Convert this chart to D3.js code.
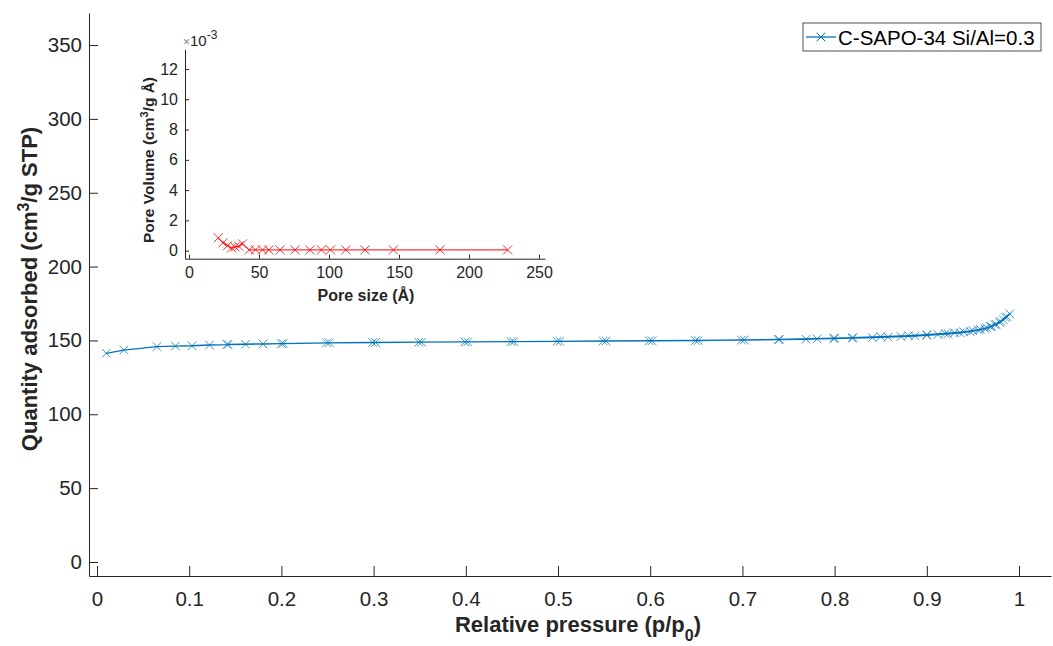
<!DOCTYPE html>
<html>
<head>
<meta charset="utf-8">
<script src="https://cdn.jsdelivr.net/npm/d3@7"></script>
<style>
  body { margin: 0; background: #fff; }
  svg { display: block; font-family: 'Liberation Sans', Arial, sans-serif; }
</style>
</head>
<body>
<div id="graphic"></div>
<script>
'use strict';

// isotherm, adsorption branch then desorption branch (one MATLAB line)
const adsP = [0.010, 0.029, 0.065, 0.085, 0.103, 0.122, 0.142, 0.161, 0.180, 0.200, 0.249, 0.299, 0.349, 0.399, 0.449, 0.499, 0.549, 0.599, 0.649, 0.699, 0.739, 0.769, 0.781, 0.799, 0.819, 0.841, 0.858, 0.872, 0.887, 0.900, 0.912, 0.923, 0.936, 0.947, 0.956, 0.963, 0.969, 0.974, 0.979, 0.983, 0.987, 0.990];
const adsQ = [141.3, 143.5, 145.8, 146.2, 146.4, 146.9, 147.2, 147.4, 147.6, 147.8, 148.4, 148.6, 148.8, 149.0, 149.2, 149.4, 149.6, 149.7, 149.9, 150.2, 150.5, 150.8, 151.0, 151.3, 151.6, 151.9, 152.2, 152.6, 153.0, 153.5, 154.0, 154.5, 155.2, 156.0, 157.0, 158.0, 159.3, 160.6, 162.2, 164.0, 166.0, 168.0];
const desP = [0.985, 0.980, 0.975, 0.970, 0.965, 0.958, 0.950, 0.940, 0.930, 0.920, 0.900, 0.880, 0.850, 0.820, 0.800, 0.740, 0.702, 0.652, 0.602, 0.552, 0.502, 0.452, 0.402, 0.352, 0.302, 0.252, 0.202, 0.141];
const desQ = [165.5, 163.0, 161.0, 159.5, 158.5, 157.5, 156.6, 155.8, 155.2, 154.7, 153.9, 153.3, 152.6, 151.9, 151.5, 150.7, 150.3, 150.0, 149.8, 149.6, 149.4, 149.2, 149.0, 148.8, 148.6, 148.4, 147.9, 147.3];

// pore size distribution (inset), volume in 1e-3 cm3/g/Å
const poreSize = [20.8, 24.2, 27.5, 30.3, 32.8, 35.5, 38.2, 43, 47.5, 52.5, 57, 65, 75.7, 86.4, 94.6, 101, 112, 125.7, 146, 179.3, 227.6];
const poreVol = [0.85, 0.52, 0.33, 0.18, 0.25, 0.30, 0.45, 0.05, 0.05, 0.05, 0.05, 0.05, 0.05, 0.05, 0.05, 0.05, 0.05, 0.05, 0.05, 0.05, 0.05];

const xTicks = [0, 0.1, 0.2, 0.3, 0.4, 0.5, 0.6, 0.7, 0.8, 0.9, 1];
const yTicks = [0, 50, 100, 150, 200, 250, 300, 350];
const insetXTicks = [0, 50, 100, 150, 200, 250];
const insetYTicks = [0, 2, 4, 6, 8, 10, 12];
const seriesName = `C-SAPO-34 Si/Al=0.3`;

const width = 1053;
const height = 646;
const axisColor = `#262626`;
const blue = `#0072BD`;
const red = `#FF0000`;

const svg = d3.select(`#graphic`).append(`svg`).attr(`width`, width).attr(`height`, height);

const x = d3.scaleLinear().domain([-0.0087, 1.0347]).range([89, 1051]);
const y = d3.scaleLinear().domain([-9.5, 371.7]).range([576, 13]);

const cross = (r) => `M${-r},${-r}L${r},${r}M${-r},${r}L${r},${-r}`;

const styleAxis = (g, fs) => {
  g.select(`.domain`).attr(`stroke`, axisColor).attr(`stroke-width`, 1);
  g.selectAll(`.tick line`).attr(`stroke`, axisColor);
  g.selectAll(`.tick text`).attr(`fill`, axisColor).attr(`font-size`, fs).attr(`font-family`, null);
};

// main axes
svg
  .append(`g`)
  .attr(`transform`, `translate(0,${y.range()[0]})`)
  .call(d3.axisBottom(x).tickValues(xTicks).tickSize(-10).tickSizeOuter(0).tickPadding(15).tickFormat(d3.format(`~g`)))
  .call((g) => styleAxis(g, 20.5));

svg
  .append(`g`)
  .attr(`transform`, `translate(${x.range()[0]},0)`)
  .call(d3.axisLeft(y).tickValues(yTicks).tickSize(-9).tickSizeOuter(0).tickPadding(7))
  .call((g) => styleAxis(g, 20.5));

// axis labels
const xl = svg
  .append(`text`)
  .attr(`x`, 578)
  .attr(`y`, 632)
  .attr(`text-anchor`, `middle`)
  .attr(`font-size`, 22)
  .attr(`font-weight`, `bold`)
  .attr(`fill`, axisColor);
xl.append(`tspan`).text(`Relative pressure (p/p`);
xl.append(`tspan`).attr(`baseline-shift`, `sub`).attr(`font-size`, 16).text(`0`);
xl.append(`tspan`).text(`)`);

const yl = svg
  .append(`text`)
  .attr(`transform`, `translate(37,289) rotate(-90)`)
  .attr(`text-anchor`, `middle`)
  .attr(`font-size`, 22)
  .attr(`font-weight`, `bold`)
  .attr(`fill`, axisColor);
yl.append(`tspan`).text(`Quantity adsorbed (cm`);
yl.append(`tspan`).attr(`baseline-shift`, `super`).attr(`font-size`, 16).text(`3`);
yl.append(`tspan`).text(`/g STP)`);

// isotherm
const iso = adsP.map((p, i) => [p, adsQ[i]]).concat(desP.map((p, i) => [p, desQ[i]]));
svg
  .append(`path`)
  .datum(iso)
  .attr(`fill`, `none`)
  .attr(`stroke`, blue)
  .attr(`stroke-width`, 1.3)
  .attr(`d`, d3.line().x((d) => x(d[0])).y((d) => y(d[1])));

svg
  .append(`g`)
  .selectAll(`path`)
  .data(iso)
  .join(`path`)
  .attr(`transform`, (d) => `translate(${x(d[0])},${y(d[1])})`)
  .attr(`d`, cross(4.3))
  .attr(`fill`, `none`)
  .attr(`stroke`, blue)
  .attr(`stroke-opacity`, 0.75)
  .attr(`stroke-width`, 1);

// legend
const legend = svg.append(`g`).attr(`transform`, `translate(803,23)`);
legend.append(`rect`).attr(`width`, 238).attr(`height`, 28).attr(`fill`, `#fff`).attr(`stroke`, axisColor).attr(`stroke-width`, 0.8);
legend.append(`line`).attr(`x1`, 3).attr(`x2`, 33).attr(`y1`, 14).attr(`y2`, 14).attr(`stroke`, blue).attr(`stroke-width`, 1.3);
legend.append(`path`).attr(`transform`, `translate(18,14)`).attr(`d`, cross(4.3)).attr(`stroke`, blue).attr(`fill`, `none`);
legend
  .append(`text`)
  .attr(`x`, 35)
  .attr(`y`, 21.5)
  .attr(`font-size`, 20.5)
  .attr(`fill`, `#000`)
  .text(seriesName);

// inset
const ix = d3.scaleLinear().domain([-2.9, 254.3]).range([185, 545]);
const iy = d3.scaleLinear().domain([-0.53, 13.3]).range([258.7, 49.3]);

const inset = svg.append(`g`);
inset
  .append(`rect`)
  .attr(`x`, ix.range()[0])
  .attr(`y`, iy.range()[1])
  .attr(`width`, ix.range()[1] - ix.range()[0])
  .attr(`height`, iy.range()[0] - iy.range()[1])
  .attr(`fill`, `#fff`);

inset
  .append(`g`)
  .attr(`transform`, `translate(0,${iy.range()[0]})`)
  .call(d3.axisBottom(ix).tickValues(insetXTicks).tickSize(-4).tickSizeOuter(0).tickPadding(8))
  .call((g) => styleAxis(g, 16));

inset
  .append(`g`)
  .attr(`transform`, `translate(${ix.range()[0]},0)`)
  .call(d3.axisLeft(iy).tickValues(insetYTicks).tickSize(-4).tickSizeOuter(0).tickPadding(7))
  .call((g) => styleAxis(g, 16));

const exp = inset.append(`text`).attr(`x`, 183).attr(`y`, 46).attr(`font-size`, 15).attr(`fill`, axisColor);
exp.append(`tspan`).attr(`font-size`, 12).attr(`fill`, `#888`).text(`×`);
exp.append(`tspan`).text(`10`);
exp.append(`tspan`).attr(`baseline-shift`, `super`).attr(`font-size`, 12).text(`-3`);

inset
  .append(`text`)
  .attr(`x`, 366)
  .attr(`y`, 301)
  .attr(`text-anchor`, `middle`)
  .attr(`font-size`, 16)
  .attr(`font-weight`, `bold`)
  .attr(`fill`, axisColor)
  .text(`Pore size (Å)`);

const iyl = inset
  .append(`text`)
  .attr(`transform`, `translate(154,160) rotate(-90)`)
  .attr(`text-anchor`, `middle`)
  .attr(`font-size`, 15.5)
  .attr(`font-weight`, `bold`)
  .attr(`fill`, axisColor);
iyl.append(`tspan`).text(`Pore Volume (cm`);
iyl.append(`tspan`).attr(`baseline-shift`, `super`).attr(`font-size`, 11).text(`3`);
iyl.append(`tspan`).text(`/g Å)`);

const psd = poreSize.map((s, i) => [s, poreVol[i]]);
inset
  .append(`path`)
  .datum(psd)
  .attr(`fill`, `none`)
  .attr(`stroke`, red)
  .attr(`stroke-width`, 1)
  .attr(`d`, d3.line().x((d) => ix(d[0])).y((d) => iy(d[1])));

inset
  .append(`g`)
  .selectAll(`path`)
  .data(psd)
  .join(`path`)
  .attr(`transform`, (d) => `translate(${ix(d[0])},${iy(d[1])})`)
  .attr(`d`, cross(4.5))
  .attr(`fill`, `none`)
  .attr(`stroke`, red)
  .attr(`stroke-opacity`, 0.8)
  .attr(`stroke-width`, 1);
</script>
</body>
</html>
